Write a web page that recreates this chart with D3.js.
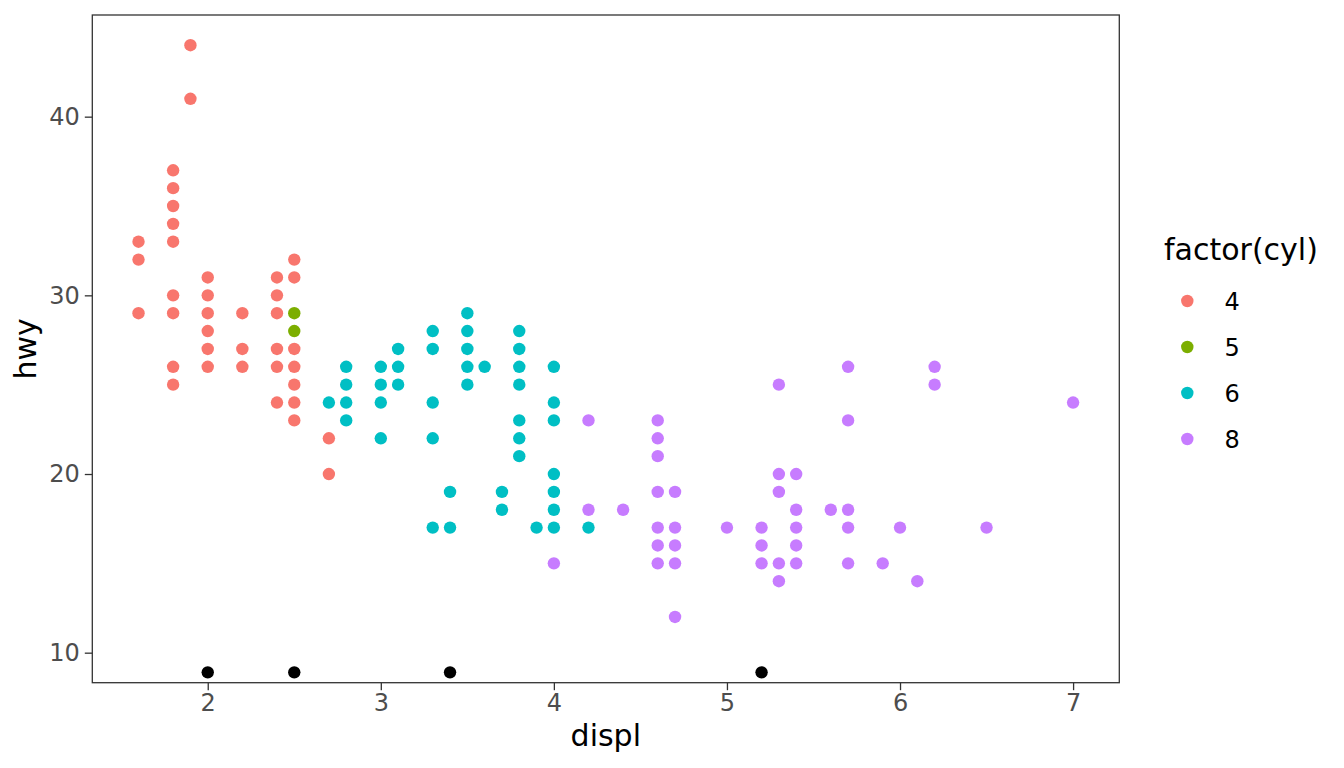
<!DOCTYPE html>
<html>
<head>
<meta charset="utf-8">
<script src="https://cdn.jsdelivr.net/npm/d3@7"></script>
<style>
  html, body { margin: 0; padding: 0; background: #fff; }
  svg { display: block; font-family: "DejaVu Sans", sans-serif; }
</style>
</head>
<body>
<svg id="chart" width="1344" height="768"></svg>
<script>
// ---- data ----
const cylLevels = ["4", "5", "6", "8"];
const cylColors = ["#F8766D", "#7CAE00", "#00BFC4", "#C77CFF"];

const displ4 = [1.6,1.6,1.6, 1.8,1.8,1.8,1.8,1.8,1.8,1.8,1.8,1.8, 1.9,1.9,
                2.0,2.0,2.0,2.0,2.0,2.0, 2.2,2.2,2.2, 2.4,2.4,2.4,2.4,2.4,2.4,
                2.5,2.5,2.5,2.5,2.5,2.5,2.5, 2.7,2.7];
const hwy4   = [33,32,29, 37,36,35,34,33,30,29,26,25, 44,41,
                31,30,29,28,27,26, 29,27,26, 31,30,29,27,26,24,
                32,31,27,26,25,24,23, 22,20];

const displ5 = [2.5, 2.5];
const hwy5   = [29, 28];

const displ6 = [2.7, 2.8,2.8,2.8,2.8, 3.0,3.0,3.0,3.0, 3.1,3.1,3.1,
                3.3,3.3,3.3,3.3,3.3, 3.4,3.4, 3.5,3.5,3.5,3.5,3.5, 3.6,
                3.7,3.7, 3.8,3.8,3.8,3.8,3.8,3.8,3.8, 3.9,
                4.0,4.0,4.0,4.0,4.0,4.0,4.0, 4.2];
const hwy6   = [24, 26,25,24,23, 26,25,24,22, 27,26,25,
                28,27,24,22,17, 19,17, 29,28,27,26,25, 26,
                19,18, 28,27,26,25,23,22,21, 17,
                26,24,23,20,19,18,17, 17];

const displ8 = [4.0, 4.2,4.2, 4.4, 4.6,4.6,4.6,4.6,4.6,4.6,4.6,
                4.7,4.7,4.7,4.7,4.7, 5.0, 5.2,5.2,5.2,
                5.3,5.3,5.3,5.3,5.3, 5.4,5.4,5.4,5.4,5.4, 5.6,
                5.7,5.7,5.7,5.7,5.7, 5.9, 6.0, 6.1, 6.2,6.2, 6.5, 7.0];
const hwy8   = [15, 23,18, 18, 23,22,21,19,17,16,15,
                19,17,16,15,12, 17, 17,16,15,
                25,20,19,15,14, 20,18,17,16,15, 18,
                26,23,18,17,15, 15, 17, 14, 26,25, 17, 24];

// extra black points along the bottom
const displBlack = [2.0, 2.5, 3.4, 5.2];
const hwyBlack   = [8.9, 8.9, 8.9, 8.9];

const xTicks = [2, 3, 4, 5, 6, 7];
const yTicks = [10, 20, 30, 40];

// ---- layout ----
const svg = d3.select("#chart");
const panel = { left: 92.3, right: 1119.3, top: 15, bottom: 682.7 };

const x = d3.scaleLinear().domain([1.333, 7.267]).range([panel.left, panel.right]);
const y = d3.scaleLinear().domain([8.32, 45.69]).range([panel.bottom, panel.top]);

const groups = [
  { level: cylLevels[0], color: cylColors[0], xs: displ4, ys: hwy4 },
  { level: cylLevels[1], color: cylColors[1], xs: displ5, ys: hwy5 },
  { level: cylLevels[2], color: cylColors[2], xs: displ6, ys: hwy6 },
  { level: cylLevels[3], color: cylColors[3], xs: displ8, ys: hwy8 }
];

const R = 6.2;
const ink = "#333333";

// points
const gPts = svg.append("g");
groups.forEach(g => {
  gPts.append("g").selectAll("circle")
    .data(g.xs.map((d, i) => [d, g.ys[i]]))
    .join("circle")
    .attr("cx", d => x(d[0]))
    .attr("cy", d => y(d[1]))
    .attr("r", R)
    .attr("fill", g.color);
});
gPts.append("g").selectAll("circle")
  .data(displBlack.map((d, i) => [d, hwyBlack[i]]))
  .join("circle")
  .attr("cx", d => x(d[0]))
  .attr("cy", d => y(d[1]))
  .attr("r", R)
  .attr("fill", "#000000");

// panel border
svg.append("rect")
  .attr("x", panel.left).attr("y", panel.top)
  .attr("width", panel.right - panel.left)
  .attr("height", panel.bottom - panel.top)
  .attr("fill", "none").attr("stroke", ink).attr("stroke-width", 1.3);

// axes
const xAxis = svg.append("g")
  .attr("transform", `translate(0,${panel.bottom})`)
  .call(d3.axisBottom(x).tickValues(xTicks).tickSize(7.5).tickPadding(4).tickFormat(d3.format("d")));
const yAxis = svg.append("g")
  .attr("transform", `translate(${panel.left},0)`)
  .call(d3.axisLeft(y).tickValues(yTicks).tickSize(7.5).tickPadding(5).tickFormat(d3.format("d")));

[xAxis, yAxis].forEach(a => {
  a.select(".domain").remove();
  a.selectAll(".tick line").attr("stroke", ink).attr("stroke-width", 1.3);
  a.selectAll(".tick text")
    .attr("fill", "#4D4D4D")
    .style("font-family", "'DejaVu Sans', sans-serif")
    .style("font-size", "24px");
});

// axis titles
svg.append("text")
  .attr("x", (panel.left + panel.right) / 2)
  .attr("y", 746)
  .attr("text-anchor", "middle")
  .style("font-size", "30px")
  .attr("fill", "#000")
  .text("displ");

svg.append("text")
  .attr("transform", `translate(36,${(panel.top + panel.bottom) / 2}) rotate(-90)`)
  .attr("text-anchor", "middle")
  .style("font-size", "30px")
  .attr("fill", "#000")
  .text("hwy");

// legend
const leg = svg.append("g");
leg.append("text")
  .attr("x", 1164)
  .attr("y", 260)
  .style("font-size", "30px")
  .attr("fill", "#000")
  .text("factor(cyl)");

const legY = d3.scalePoint().domain(cylLevels).range([301, 439]);
const items = leg.selectAll("g.item")
  .data(groups)
  .join("g")
  .attr("class", "item")
  .attr("transform", d => `translate(0,${legY(d.level)})`);
items.append("circle")
  .attr("cx", 1187.3).attr("cy", 0).attr("r", R)
  .attr("fill", d => d.color);
items.append("text")
  .attr("x", 1224.5).attr("y", 8.6)
  .style("font-size", "24px")
  .attr("fill", "#000")
  .text(d => d.level);
</script>
</body>
</html>
